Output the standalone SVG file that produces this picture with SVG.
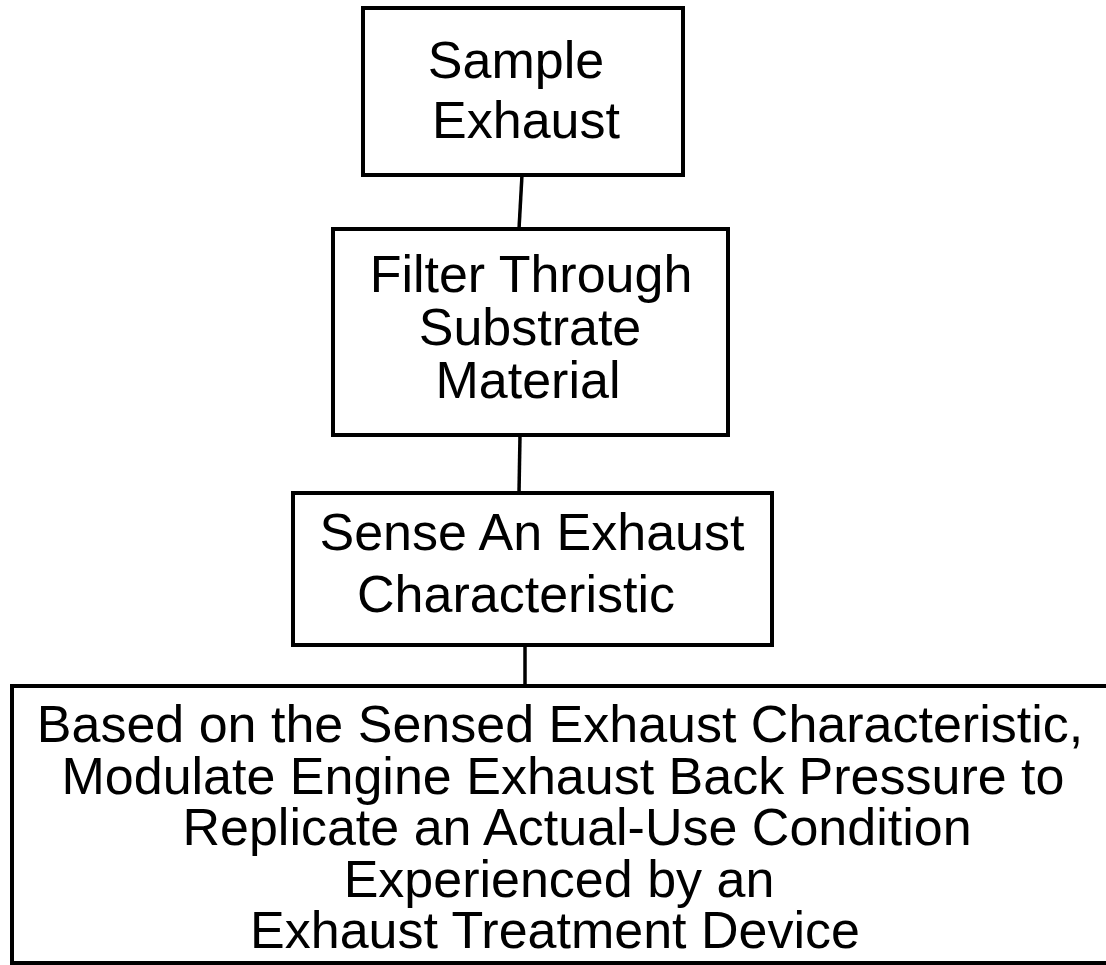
<svg xmlns="http://www.w3.org/2000/svg" width="1106" height="965" viewBox="0 0 1106 965">
<style>
.box{fill:none;stroke:#000;stroke-width:4}
.ln{stroke:#000;stroke-width:3.5;fill:none}
text{font-family:"Liberation Sans",Arial,sans-serif;font-size:52px;fill:#000;text-anchor:middle}
</style>
<rect width="1106" height="965" fill="#fff"/>
<g id="connectors">
<line class="ln" x1="522" y1="175" x2="519" y2="229"/>
<line class="ln" x1="520" y1="435" x2="519" y2="493"/>
<line class="ln" x1="525" y1="645" x2="525" y2="686"/>
</g>
<g id="n1">
<rect class="box" x="363" y="8" width="320" height="167"/>
<text x="516" y="78">Sample</text>
<text x="526" y="138">Exhaust</text>
</g>
<g id="n2">
<rect class="box" x="333" y="229" width="395" height="206"/>
<text x="531" y="292">Filter Through</text>
<text x="530" y="345">Substrate</text>
<text x="528" y="398">Material</text>
</g>
<g id="n3">
<rect class="box" x="293" y="493" width="479" height="152"/>
<text x="532" y="550">Sense An Exhaust</text>
<text x="516" y="612">Characteristic</text>
</g>
<g id="n4">
<path class="box" d="M1106 686 H12 V963 H1106"/>
<text x="560" y="742">Based on the Sensed Exhaust Characteristic,</text>
<text x="563" y="794">Modulate Engine Exhaust Back Pressure to</text>
<text x="577" y="845">Replicate an Actual-Use Condition</text>
<text x="559" y="897">Experienced by an</text>
<text x="555" y="948">Exhaust Treatment Device</text>
</g>
</svg>
